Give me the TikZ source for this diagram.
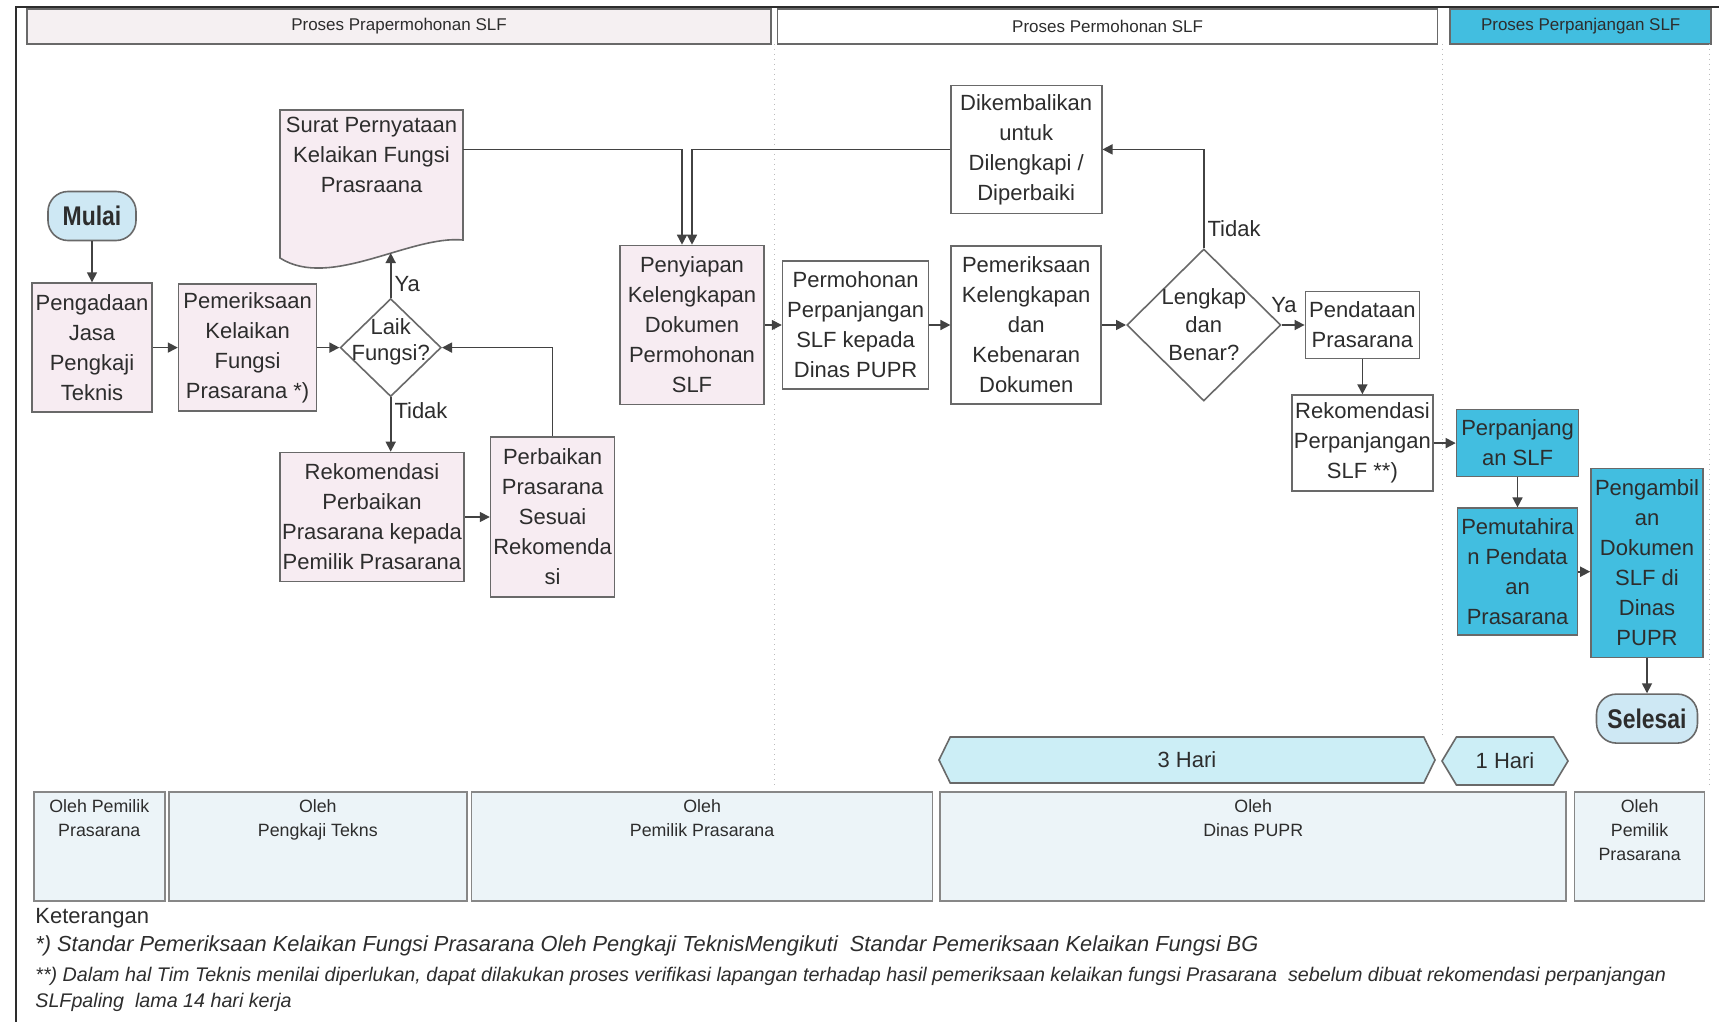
\documentclass[tikz,border=0pt]{standalone}
\usepackage{fontspec}
\setmainfont{Liberation Sans}
\newfontfamily\narrowsans[FakeStretch=0.85]{Liberation Sans}
\usetikzlibrary{shapes.geometric, shapes.symbols, arrows.meta, positioning, calc}
\definecolor{boxpink}{RGB}{247,236,242}
\definecolor{phasepink}{RGB}{245,240,242}
\definecolor{slfcyan}{RGB}{66,190,224}
\definecolor{startblue}{RGB}{206,232,244}
\definecolor{timecyan}{RGB}{204,238,246}
\definecolor{lanefill}{RGB}{236,244,248}
\definecolor{linegrey}{RGB}{105,105,105}
\definecolor{textdark}{RGB}{45,45,45}

\begin{document}
\begin{tikzpicture}[x=0.5pt, y=-0.5pt,
    box/.style={draw=linegrey, line width=0.8pt, fill=boxpink, align=center, inner sep=1pt,
      text=textdark, font=\fontsize{11}{15}\selectfont},
    plainbox/.style={box, fill=white},
    slfbox/.style={box, fill=slfcyan},
    decision/.style={diamond, draw=linegrey, line width=0.8pt, fill=white, inner sep=0pt},
    terminal/.style={draw=linegrey, line width=0.8pt, fill=startblue, rounded corners=10pt,
      text=textdark, font=\narrowsans\bfseries\fontsize{13.5}{15}\selectfont},
    arr/.style={draw=textdark!90, line width=0.8pt, -{Triangle[length=5pt,width=5pt]}},
    lbl/.style={text=textdark, font=\fontsize{11}{13}\selectfont, inner sep=1.5pt},
    phase/.style={draw=linegrey, line width=0.8pt, minimum height=17.5pt, inner sep=0pt,
      text=textdark, font=\fontsize{8.5}{10}\selectfont},
    lane/.style={draw=linegrey!80, line width=0.8pt, fill=lanefill, minimum height=54.5pt, anchor=north west},
    lanetext/.style={anchor=north, yshift=-3pt, align=center, inner sep=1pt, text=textdark,
      font=\fontsize{8.9}{12}\selectfont},
    timebar/.style={signal, signal to=west and east, draw=linegrey, line width=0.8pt, fill=timecyan,
      inner sep=0pt, text=textdark, font=\fontsize{11}{13}\selectfont},
    sep/.style={draw=linegrey!45, dotted, line width=0.5pt}]

\useasboundingbox (0,0) rectangle (1719,1022);
\fill[white] (0,0) rectangle (1719,1022);

% frame and phase headers
\draw[textdark, line width=1pt] (16,1022) -- (16,7) -- (1719,7);
\node[phase, fill=phasepink, minimum width=372pt] (prapermohonan) at (399,26.5) {Proses Prapermohonan SLF};
\node[phase, fill=white, minimum width=330pt, right=2.5pt of prapermohonan] (permohonan-h) {Proses Permohonan SLF};
\node[phase, fill=slfcyan, minimum width=130.5pt, right=5.5pt of permohonan-h] (perpanjangan-h) {Proses Perpanjangan SLF};
\draw[sep] (774,44) -- (774,788);
\draw[sep] (1442,44) -- (1442,736);
\draw[sep] (1709,44) -- (1709,788);

% pra permohonan
\node[terminal, minimum width=44pt, minimum height=24.5pt] (mulai) at (92,216) {Mulai};
\node[box, minimum width=60pt, minimum height=64.5pt, below=20.5pt of mulai] (pengadaan) {Pengadaan\\Jasa\\Pengkaji\\Teknis};
\node[box, minimum width=69pt, minimum height=63.5pt, right=12.5pt of pengadaan] (pemeriksaan) {Pemeriksaan\\Kelaikan\\Fungsi\\Prasarana *)};
\node[decision, minimum width=50.5pt, minimum height=49pt, right=11pt of pemeriksaan,
  label={[lbl, align=center, yshift=3pt]center:Laik\\Fungsi?}] (laik) {};

% document shape with wavy foot
\draw[draw=linegrey, line width=0.8pt, fill=boxpink] (280,110) -- (463,110) -- (463,240)
  .. controls (410,235) and (330,290) .. (280,258) -- cycle;
\node[inner sep=0pt, minimum width=91.5pt, minimum height=76pt] (surat) at (371.5,186) {};
\node[lbl, align=center, font=\fontsize{11}{15}\selectfont, anchor=north] (surat-text) at (371.5,114)
  {Surat Pernyataan\\Kelaikan Fungsi\\Prasraana};
\coordinate (suratfoot) at (388,253);

\node[box, minimum width=92pt, minimum height=64.5pt] (rekperbaikan) at (372,517) {Rekomendasi\\Perbaikan\\Prasarana kepada\\Pemilik Prasarana};
\node[box, minimum width=62pt, minimum height=80pt, right=12.5pt of rekperbaikan] (perbaikan) {Perbaikan\\Prasarana\\Sesuai\\Rekomenda\\si};
\node[box, minimum width=72pt, minimum height=79.5pt] (penyiapan) at (692,325) {Penyiapan\\Kelengkapan\\Dokumen\\Permohonan\\SLF};

% permohonan
\node[plainbox, minimum width=73pt, minimum height=64pt, right=8.5pt of penyiapan] (permohonan) {Permohonan\\Perpanjangan\\SLF kepada\\Dinas PUPR};
\node[plainbox, minimum width=75pt, minimum height=79pt, right=10.5pt of permohonan] (periksakel) {Pemeriksaan\\Kelengkapan\\dan\\Kebenaran\\Dokumen};
\node[decision, minimum width=77pt, minimum height=76pt, right=12pt of periksakel,
  label={[lbl, align=center, font=\fontsize{11}{14}\selectfont]center:Lengkap\\dan\\Benar?}] (lengkap) {};
\node[plainbox, minimum width=75.5pt, minimum height=64pt, above=15.5pt of periksakel] (dikembali) {Dikembalikan\\untuk\\Dilengkapi /\\Diperbaiki};
\node[plainbox, minimum width=57pt, minimum height=33.5pt, right=11.5pt of lengkap] (pendataan) {Pendataan\\Prasarana};
\node[plainbox, minimum width=70.5pt, minimum height=48pt, below=17.5pt of pendataan] (rekperpanj) {Rekomendasi\\Perpanjangan\\SLF **)};

% perpanjangan
\node[slfbox, minimum width=61pt, minimum height=33.5pt, right=11pt of rekperpanj] (perpanj) {Perpanjang\\an SLF};
\node[slfbox, minimum width=60pt, minimum height=63.5pt, below=15pt of perpanj] (pemutahiran) {Pemutahira\\n Pendata\\an\\Prasarana};
\node[slfbox, minimum width=56pt, minimum height=94.5pt] (pengambilan) at (1647,563) {Pengambil\\an\\Dokumen\\SLF di\\Dinas\\PUPR};
\node[terminal, minimum width=50.5pt, minimum height=24.5pt, below=17.5pt of pengambilan] (selesai) {Selesai};

% connectors
\draw[arr] (mulai) -- (pengadaan);
\draw[arr] (pengadaan) -- (pemeriksaan);
\draw[arr] (pemeriksaan) -- (laik);
\draw[arr] (laik.north) -- (laik.north |- suratfoot) node[lbl, pos=0.3, right] {Ya};
\draw[arr] (laik.south) -- (laik.south |- rekperbaikan.north) node[lbl, pos=0.25, right] {Tidak};
\draw[arr] (rekperbaikan.east) -- (rekperbaikan.east -| perbaikan.west);
\draw[arr] (perbaikan.north) |- (laik.east);
\draw[arr] (surat.east |- dikembali.west) -| ([xshift=-5pt]penyiapan.north);
\draw[arr] (dikembali.west) -| (penyiapan.north);
\draw[arr] (penyiapan) -- (permohonan);
\draw[arr] (permohonan) -- (periksakel);
\draw[arr] (periksakel) -- (lengkap);
\draw[arr] (lengkap.north) |- (dikembali.east) node[lbl, pos=0.1, right] {Tidak};
\draw[arr] (lengkap) -- (pendataan) node[lbl, pos=0.1, above, yshift=4pt] {Ya};
\draw[arr] (pendataan) -- (rekperpanj);
\draw[arr] (rekperpanj) -- (perpanj);
\draw[arr] (perpanj) -- (pemutahiran);
\draw[arr] (pemutahiran.east) -- (pemutahiran.east -| pengambilan.west);
\draw[arr] (pengambilan) -- (selesai);

% durations
\node[timebar, minimum width=248pt, minimum height=23pt, signal pointer angle=128] (hari3) at (1187,760) {3 Hari};
\node[timebar, minimum width=63pt, minimum height=24pt, signal pointer angle=118] (hari1) at (1505,761) {1 Hari};

% lanes of responsibility
\node[lane, minimum width=65.5pt] (lane1) at (33,791) {};
\node[lane, minimum width=149pt, right=1.2pt of lane1.north east, anchor=north west] (lane2) {};
\node[lane, minimum width=230.5pt, right=1.6pt of lane2.north east, anchor=north west] (lane3) {};
\node[lane, minimum width=313pt, right=3pt of lane3.north east, anchor=north west] (lane4) {};
\node[lane, minimum width=65pt, right=3.4pt of lane4.north east, anchor=north west] (lane5) {};
\node[lanetext] at (lane1.north) {Oleh Pemilik\\Prasarana};
\node[lanetext] at (lane2.north) {Oleh\\Pengkaji Tekns};
\node[lanetext] at (lane3.north) {Oleh\\Pemilik Prasarana};
\node[lanetext] at (lane4.north) {Oleh\\Dinas PUPR};
\node[lanetext] at (lane5.north) {Oleh\\Pemilik\\Prasarana};

% notes
\node[lbl, anchor=west, font=\fontsize{11}{13}\selectfont] (keterangan) at (32,918) {Keterangan};
\node[lbl, anchor=west, font=\itshape\fontsize{10.9}{13}\selectfont] (note1) at (32,946)
  {*) Standar Pemeriksaan Kelaikan Fungsi Prasarana Oleh Pengkaji TeknisMengikuti\ \ Standar Pemeriksaan Kelaikan Fungsi BG};
\node[lbl, anchor=west, font=\itshape\fontsize{9.85}{12}\selectfont] (note2) at (32,976)
  {**) Dalam hal Tim Teknis menilai diperlukan, dapat dilakukan proses verifikasi lapangan terhadap hasil pemeriksaan kelaikan fungsi Prasarana\ \ sebelum dibuat rekomendasi perpanjangan};
\node[lbl, anchor=west, font=\itshape\fontsize{9.85}{12}\selectfont] (note3) at (32,1002) {SLFpaling\ \ lama 14 hari kerja};
\end{tikzpicture}
\end{document}
